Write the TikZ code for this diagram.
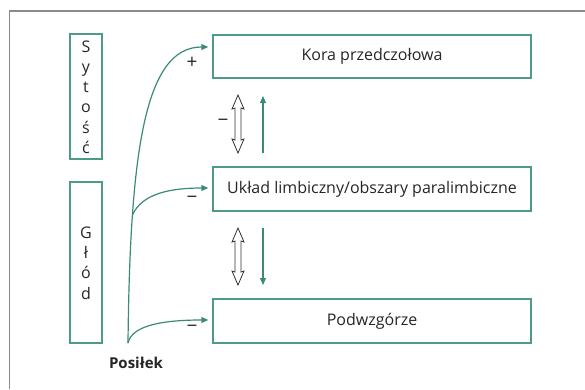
\documentclass[tikz,border=0pt]{standalone}
\usepackage{fontspec}
\setmainfont{Open Sans}
\usetikzlibrary{arrows.meta}
\definecolor{teal1}{HTML}{3A8A78}
\definecolor{tealbox}{HTML}{4E9A88}
\definecolor{framegray}{HTML}{8A8A8A}
\tikzset{
  boxnode/.style={draw=tealbox, line width=1.5pt, minimum width=318pt, inner sep=0pt, font=\fontsize{16}{19}\selectfont, text=black!85},
  sidebox/.style={draw=tealbox, line width=1.5pt, minimum width=32pt, inner sep=0pt},
  vlett/.style={font=\fontsize{16}{20.2}\selectfont, text=black!85, align=center},
  grarr/.style={draw=teal1, line width=1.2pt, -{Triangle[length=7pt,width=6pt]}},
  signlab/.style={font=\fontsize{19}{20}\selectfont, text=black!85, inner sep=0pt},
  dblarr/.style={draw=black!80, line width=0.8pt, fill=white, line join=miter},
}
\newcommand\mydbl[3]{%
  \draw[dblarr] (#1,#2) -- (#1+6,#2+14) -- (#1+3,#2+13) -- (#1+3,#3-13) -- (#1+6,#3-14) -- (#1,#3)
   -- (#1-6,#3-14) -- (#1-3,#3-13) -- (#1-3,#2+13) -- (#1-6,#2+14) -- cycle;}
\begin{document}
\begin{tikzpicture}[x=1pt,y=-1pt]
\useasboundingbox[fill=white] (0,0) rectangle (585,389);
\draw[framegray, line width=1.6pt] (9.5,389) -- (9.5,11) -- (585,11);

\node[boxnode, minimum height=43pt] (kora) at (372,56.5) {Kora przedczołowa};
\node[boxnode, minimum height=44pt] (ukl) at (372,189) {Układ limbiczny/obszary paralimbiczne};
\node[boxnode, minimum height=44pt] (pod) at (372,321) {Podwzgórze};

\node[sidebox, minimum height=125pt] (syt) at (86,96.5) {};
\node[sidebox, minimum height=161pt] (glod) at (86,262.5) {};
\node[vlett] (sytt) at (86,97) {S\\y\\t\\o\\ś\\ć};
\node[vlett] (glodt) at (86,263) {G\\ł\\ó\\d};

\node[font=\fontsize{15}{18}\selectfont\bfseries, text=black!85] (pos) at (136,363) {Posiłek};

\coordinate (src) at (128,343);
\coordinate (br) at (132.5,215);
\draw[grarr] (src) .. controls (130,150) and (145,47) .. ([xshift=-4pt]kora.west |- 0,47);
\draw[grarr] (br) .. controls (142,193) and (172,188) .. ([xshift=-4pt]ukl.west |- 0,188);
\draw[grarr] (src) .. controls (132,324) and (168,320) .. ([xshift=-4pt]pod.west |- 0,320);

\node[signlab] (p1) at (192,63) {+};
\node[signlab] (m1) at (192,200) {−};
\node[signlab] (m2) at (192,329) {−};
\node[signlab] (m3) at (223,123) {−};

\mydbl{238}{95}{153}
\mydbl{238}{228}{285}

\coordinate (ua) at (263,153);
\coordinate (ub) at (263,96);
\draw[grarr] (ua) -- (ub);
\coordinate (da) at (263,228);
\coordinate (db) at (263,285);
\draw[grarr] (da) -- (db);
\end{tikzpicture}
\end{document}
